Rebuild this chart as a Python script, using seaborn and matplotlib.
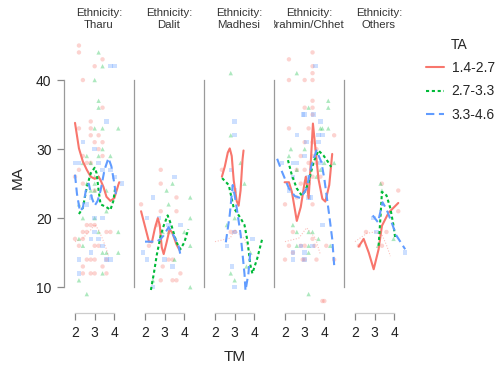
import numpy as np
import pandas as pd
import matplotlib.pyplot as plt
import seaborn as sns
from matplotlib.lines import Line2D
from matplotlib.transforms import Bbox, TransformedBbox

# facet and group labels
ethnicities = ['Tharu', 'Dalit', 'Madhesi', 'Brahmin/Chhetri', 'Others']
ta_levels = ['1.4-2.7', '2.7-3.3', '3.3-4.6']

# raw points (TM, MA) per ethnicity and TA group
tharu_low = [(2.2, 45), (2.2, 44), (3.4, 43), (3.0, 42), (2.4, 40), (3.4, 36), (2.8, 34), (2.2, 33),
             (2.8, 33), (2.8, 32), (3.2, 32), (3.0, 31), (3.4, 31), (3.2, 30), (2.4, 29), (3.4, 29),
             (2.6, 28), (2.8, 28), (2.2, 27), (2.0, 26), (2.4, 25), (3.0, 24), (2.6, 19), (2.8, 19),
             (3.0, 19), (2.4, 18), (2.6, 18), (3.6, 18), (3.8, 18), (2.0, 17), (2.4, 17), (2.2, 16),
             (3.0, 16), (3.2, 16), (2.6, 14), (2.8, 14), (3.0, 14), (3.6, 14), (2.4, 13), (3.4, 13),
             (2.4, 12), (2.8, 12), (3.0, 12), (3.6, 12)]
tharu_mid = [(3.2, 44), (3.4, 42), (3.0, 40), (3.2, 37), (3.2, 36), (3.0, 33), (3.4, 33), (4.2, 33),
             (3.4, 30), (3.8, 29), (2.6, 29), (3.2, 29), (2.4, 28), (2.8, 28), (3.0, 26), (3.2, 26),
             (2.6, 25), (3.0, 25), (2.8, 24), (3.0, 24), (3.6, 24), (2.2, 22), (3.6, 21), (2.4, 20),
             (3.0, 20), (4.2, 18), (3.2, 18), (2.2, 17), (2.4, 16), (3.4, 15), (3.6, 15), (4.2, 15),
             (3.4, 12), (2.2, 11), (2.6, 9)]
tharu_high = [(3.8, 42), (4.0, 42), (3.6, 34), (2.4, 31), (3.0, 30), (2.0, 28), (2.2, 28), (3.2, 28),
              (3.4, 27), (3.8, 27), (4.0, 26), (4.4, 25), (2.8, 23), (2.6, 22), (3.0, 20), (3.4, 20),
              (3.0, 18), (2.8, 17), (3.2, 17), (3.4, 16), (2.8, 15), (2.2, 14), (3.6, 14), (3.8, 14),
              (2.2, 12)]

dalit_low = [(2.8, 27), (2.8, 25), (1.8, 22), (3.6, 23), (2.8, 21), (3.6, 21), (2.6, 19), (3.2, 14),
             (3.4, 14), (2.9, 13), (3.8, 12), (2.8, 11), (3.4, 11), (3.6, 11), (2.2, 16)]
dalit_mid = [(3.4, 25), (3.1, 24), (3.2, 22), (4.3, 23), (4.3, 20), (3.2, 18), (4.0, 18), (4.3, 16),
             (3.5, 14), (2.4, 11), (4.3, 10), (2.9, 18)]
dalit_high = [(3.5, 26), (2.4, 23), (2.1, 20), (2.7, 20), (3.2, 19), (3.8, 19), (1.9, 15), (2.1, 14),
              (3.0, 14), (3.4, 13), (2.4, 10)]

madhesi_low = [(2.35, 27), (3.0, 18), (2.8, 18)]
madhesi_mid = [(2.8, 41), (2.8, 32), (3.3, 28), (3.5, 25), (2.6, 19), (3.8, 15), (3.6, 13), (2.8, 12),
               (3.0, 11), (3.0, 20)]
madhesi_high = [(3.0, 34), (3.0, 32), (2.8, 27), (3.0, 24), (3.0, 18), (3.9, 17), (2.6, 16), (2.85, 13),
                (3.0, 10)]

brahmin_low = [(3.4, 44), (2.2, 43), (3.4, 42), (3.4, 41), (2.2, 40), (3.0, 40), (3.4, 40), (3.4, 37),
               (3.0, 36), (3.4, 36), (3.4, 35), (2.2, 33), (3.2, 33), (4.5, 32), (3.0, 31), (3.4, 31),
               (3.6, 30), (2.8, 29), (3.4, 29), (3.2, 28), (3.6, 28), (2.6, 27), (3.0, 27), (3.4, 26),
               (3.8, 26), (2.8, 25), (3.2, 25), (2.0, 22), (2.6, 23), (3.4, 22), (2.4, 18), (3.4, 17),
               (2.2, 16), (2.8, 16), (3.0, 16), (3.5, 16), (4.1, 16), (2.4, 15), (2.0, 14), (2.9, 14),
               (3.0, 14), (3.6, 14), (4.5, 14), (3.9, 8), (4.0, 8)]
brahmin_mid = [(2.6, 41), (4.2, 37), (3.2, 36), (4.2, 36), (3.8, 33), (3.9, 33), (4.2, 33), (2.3, 30),
               (3.0, 30), (2.2, 29), (3.4, 28), (4.0, 28), (4.5, 28), (2.6, 27), (3.8, 27), (3.6, 26),
               (2.4, 19), (2.6, 18), (3.2, 18), (3.4, 18), (3.7, 17), (2.6, 16), (3.2, 16), (4.3, 16),
               (3.2, 15), (3.2, 9)]
brahmin_high = [(3.55, 42), (2.9, 35), (3.0, 35), (3.45, 35), (3.8, 34), (2.6, 32), (3.7, 32), (3.9, 32),
                (3.1, 31), (3.7, 31), (3.0, 29), (1.85, 28), (2.4, 28), (2.6, 28), (3.8, 28), (2.4, 26),
                (3.2, 26), (2.2, 24), (3.2, 23), (3.3, 23), (3.9, 19), (2.8, 16), (3.4, 16), (2.4, 15),
                (3.0, 15), (2.4, 14), (3.0, 14)]

others_low = [(3.37, 25), (4.2, 24), (4.2, 21), (2.56, 18), (3.6, 18), (3.37, 16), (2.2, 16)]
others_mid = [(3.3, 25), (3.37, 24), (3.17, 16), (3.96, 17)]
others_high = [(2.95, 20), (3.1, 18), (4.55, 15)]

# smoothed curves
tharu_low_fit = [(2.0, 33.8), (2.2, 30.1), (2.4, 28.2), (2.6, 27.0), (2.8, 26.0), (3.0, 25.7), (3.2, 26.0),
                 (3.3, 25.5), (3.45, 24.5), (3.6, 23.1), (3.8, 22.5), (4.0, 22.9), (4.2, 24.8), (4.25, 25.2)]
tharu_mid_fit = [(2.2, 20.6), (2.4, 21.5), (2.6, 24.5), (2.8, 26.5), (3.0, 27.3), (3.1, 26.5), (3.2, 24.0),
                 (3.3, 22.0), (3.45, 21.8), (3.6, 21.6), (3.8, 21.2), (3.95, 22.5), (4.05, 24.5)]
tharu_high_fit = [(2.0, 26.3), (2.1, 23.5), (2.25, 21.0), (2.4, 21.5), (2.55, 24.0), (2.7, 25.0), (2.85, 23.0),
                  (3.0, 21.8), (3.15, 22.5), (3.3, 24.0), (3.5, 27.0), (3.7, 28.7), (3.85, 27.5), (4.0, 25.0),
                  (4.1, 23.0)]
tharu_faint = [(2.0, 16.6), (2.4, 17.1), (2.8, 18.3), (3.0, 19.1), (3.2, 18.3), (3.4, 17.0), (3.6, 15.5),
               (3.7, 14.5)]

dalit_low_fit = [(1.8, 21.0), (2.0, 18.8), (2.2, 16.6), (2.35, 16.5), (2.5, 18.5), (2.65, 20.0), (2.75, 19.0),
                 (2.85, 15.8), (2.95, 14.8), (3.1, 16.5), (3.25, 18.4), (3.4, 17.8), (3.6, 16.2), (3.75, 15.4)]
dalit_mid_fit = [(2.3, 9.6), (2.45, 12.0), (2.6, 14.7), (2.8, 17.5), (2.95, 18.9), (3.15, 20.4), (3.35, 18.9),
                 (3.6, 16.5), (3.8, 15.5), (4.0, 16.5), (4.2, 18.4)]
dalit_high_fit = [(2.0, 16.6), (2.3, 16.6), (2.6, 16.6), (2.8, 17.0), (2.95, 17.5), (3.2, 18.7), (3.45, 17.5),
                  (3.7, 16.1), (3.8, 14.7)]

madhesi_low_fit = [(2.35, 26.0), (2.5, 27.5), (2.65, 29.5), (2.75, 30.1), (2.85, 29.0), (2.95, 25.5),
                   (3.1, 22.5), (3.2, 21.8), (3.3, 24.0), (3.4, 28.5), (3.45, 29.8)]
madhesi_mid_fit = [(2.36, 25.8), (2.7, 24.8), (2.95, 21.5), (3.3, 20.0), (3.5, 19.0), (3.65, 16.7),
                   (3.8, 13.2), (3.9, 12.0), (4.15, 14.2), (4.4, 17.0)]
madhesi_high_fit = [(2.55, 16.5), (2.75, 20.5), (2.9, 24.8), (3.05, 22.5), (3.3, 17.7), (3.5, 11.9),
                    (3.55, 9.5), (3.7, 12.0), (3.8, 15.3)]
madhesi_faint = [(2.0, 16.6), (2.77, 17.1), (3.0, 18.3), (3.5, 17.0), (3.75, 15.2)]

brahmin_low_fit = [(1.98, 25.2), (2.2, 25.2), (2.35, 23.8), (2.6, 19.6), (2.8, 21.6), (3.0, 25.2),
                   (3.06, 26.0), (3.2, 22.9), (3.3, 27.5), (3.42, 33.7), (3.55, 30.0), (3.7, 25.7),
                   (3.9, 22.8), (4.05, 22.4), (4.25, 24.8), (4.4, 29.3)]
brahmin_mid_fit = [(2.15, 28.4), (2.35, 26.2), (2.6, 24.3), (2.85, 23.3), (3.0, 23.8), (3.2, 25.2),
                   (3.45, 28.1), (3.7, 29.8), (3.95, 29.1), (4.2, 28.1), (4.35, 27.4)]
brahmin_high_fit = [(1.6, 28.6), (1.85, 26.7), (2.2, 24.3), (2.5, 23.2), (2.8, 22.9), (3.1, 24.3),
                    (3.35, 27.7), (3.6, 29.8), (3.85, 28.1), (4.0, 25.7), (4.25, 20.4), (4.4, 17.0),
                    (4.5, 13.2)]
brahmin_faint = [(2.0, 16.6), (2.7, 17.1), (3.1, 18.6), (3.55, 17.1), (3.8, 14.7)]

others_low_fit = [(2.19, 15.9), (2.44, 17.0), (2.7, 15.0), (2.95, 12.6), (3.2, 15.5), (3.37, 18.9),
                  (3.71, 20.8), (4.2, 22.2)]
others_mid_fit = [(3.2, 16.0), (3.3, 20.4), (3.37, 23.8), (3.6, 23.3), (3.8, 21.4), (3.96, 18.9), (4.05, 17.0)]
others_high_fit = [(2.9, 20.4), (3.17, 19.4), (3.4, 22.3), (3.6, 21.3), (3.86, 19.4), (4.1, 17.5), (4.55, 15.5)]
others_faint = [(2.0, 16.6), (2.6, 17.8), (3.0, 18.0), (3.37, 17.6), (3.6, 16.1), (3.8, 14.5)]

point_sets = {
    'Tharu': [tharu_low, tharu_mid, tharu_high],
    'Dalit': [dalit_low, dalit_mid, dalit_high],
    'Madhesi': [madhesi_low, madhesi_mid, madhesi_high],
    'Brahmin/Chhetri': [brahmin_low, brahmin_mid, brahmin_high],
    'Others': [others_low, others_mid, others_high],
}
fit_sets = {
    'Tharu': [tharu_low_fit, tharu_mid_fit, tharu_high_fit],
    'Dalit': [dalit_low_fit, dalit_mid_fit, dalit_high_fit],
    'Madhesi': [madhesi_low_fit, madhesi_mid_fit, madhesi_high_fit],
    'Brahmin/Chhetri': [brahmin_low_fit, brahmin_mid_fit, brahmin_high_fit],
    'Others': [others_low_fit, others_mid_fit, others_high_fit],
}
faint_sets = {'Tharu': tharu_faint, 'Madhesi': madhesi_faint,
              'Brahmin/Chhetri': brahmin_faint, 'Others': others_faint}

rows, frows = [], []
for eth in ethnicities:
    for lvl, pts in zip(ta_levels, point_sets[eth]):
        rows += [(eth, lvl, x, y) for x, y in pts]
    for lvl, pts in zip(ta_levels, fit_sets[eth]):
        frows += [(eth, lvl, x, y) for x, y in pts]
df = pd.DataFrame(rows, columns=['Ethnicity', 'TA', 'TM', 'MA'])
fits = pd.DataFrame(frows, columns=['Ethnicity', 'TA', 'TM', 'MA'])

palette = {'1.4-2.7': '#F8766D', '2.7-3.3': '#00BA38', '3.3-4.6': '#619CFF'}
markers = {'1.4-2.7': 'o', '2.7-3.3': '^', '3.3-4.6': 's'}
dashes = {'1.4-2.7': '', '2.7-3.3': (1.5, 1.3), '3.3-4.6': (4, 2.2)}

sns.set_style('white')
plt.rcParams['font.family'] = ['Liberation Sans', 'DejaVu Sans']

fig = plt.figure(figsize=(5.04, 3.68), dpi=100)
W, H = 504, 368
axes = []
for i, eth in enumerate(ethnicities):
    left = 64 + 70 * i
    ax = fig.add_axes([left / W, 1 - 310 / H, 70 / W, 270 / H])
    ax.patch.set_visible(False)
    sub = df[df.Ethnicity == eth]
    sns.scatterplot(data=sub, x='TM', y='MA', hue='TA', style='TA', hue_order=ta_levels,
                    style_order=ta_levels, palette=palette, markers=markers, s=10, alpha=0.32,
                    linewidth=0, legend=False, ax=ax)
    if eth in faint_sets:
        fx, fy = zip(*faint_sets[eth])
        sns.lineplot(x=list(fx), y=list(fy), color='#F8766D', alpha=0.45, lw=0.8,
                     linestyle=(0, (1, 1.5)), sort=False, estimator=None, ax=ax)
    fsub = fits[fits.Ethnicity == eth]
    sns.lineplot(data=fsub, x='TM', y='MA', hue='TA', style='TA', hue_order=ta_levels,
                 style_order=ta_levels, palette=palette, dashes=dashes, sort=False,
                 estimator=None, lw=1.5, legend=False, ax=ax)

    ax.set_xlim(1.44, 5.0)
    ax.set_ylim(6.7, 45.8)
    ax.set_xticks([2, 3, 4])
    ax.set_yticks([10, 20, 30, 40])
    ax.set_xlabel('')
    ax.set_ylabel('')
    ax.spines['top'].set_visible(False)
    ax.spines['right'].set_visible(False)
    ax.spines['left'].set_bounds(10, 40)
    ax.spines['left'].set_color('#9a9a9a')
    ax.spines['left'].set_linewidth(0.9)
    ax.spines['bottom'].set_bounds(2, 4)
    ax.spines['bottom'].set_position(('outward', 2.5))
    ax.spines['bottom'].set_color('#cccccc')
    ax.spines['bottom'].set_linewidth(0.9)
    ax.tick_params(axis='x', bottom=True, length=5, width=0.9, color='#888888',
                   labelsize=10, pad=4, labelcolor='#222222')
    if i == 0:
        ax.tick_params(axis='y', left=True, length=5, width=0.9, color='#888888',
                       labelsize=10, pad=4, labelcolor='#222222')
    else:
        ax.tick_params(axis='y', left=False, labelleft=False)

    # strip label, clipped to the panel width
    x0, x1 = left / W, (left + 70) / W
    t = fig.text((x0 + x1) / 2, 1 - 30 / H, f'Ethnicity:\n{eth}', ha='center', va='bottom',
                 fontsize=8.2, color='#333333', linespacing=1.3)
    t.set_clip_box(TransformedBbox(Bbox.from_extents(x0, 0.8, x1, 1.0), fig.transFigure))
    t.set_clip_on(True)
    axes.append(ax)

fig.text(18 / W, 1 - 178 / H, 'MA', rotation=90, ha='center', va='center', fontsize=11)
fig.text(235 / W, 1 - 357 / H, 'TM', ha='center', va='center', fontsize=11)

handles = [Line2D([], [], color=palette[l], lw=1.5,
                  linestyle='-' if dashes[l] == '' else (0, dashes[l])) for l in ta_levels]
fig.legend(handles, ta_levels, loc='upper left', bbox_to_anchor=(426 / W, 1 - 61 / H),
           frameon=False, fontsize=10, handlelength=1.3, handletextpad=0.55,
           labelspacing=0.68, borderpad=0, borderaxespad=0)
fig.text(451 / W, 1 - 45 / H, 'TA', ha='left', va='center', fontsize=10)

fig.savefig('out.png', dpi=100)
